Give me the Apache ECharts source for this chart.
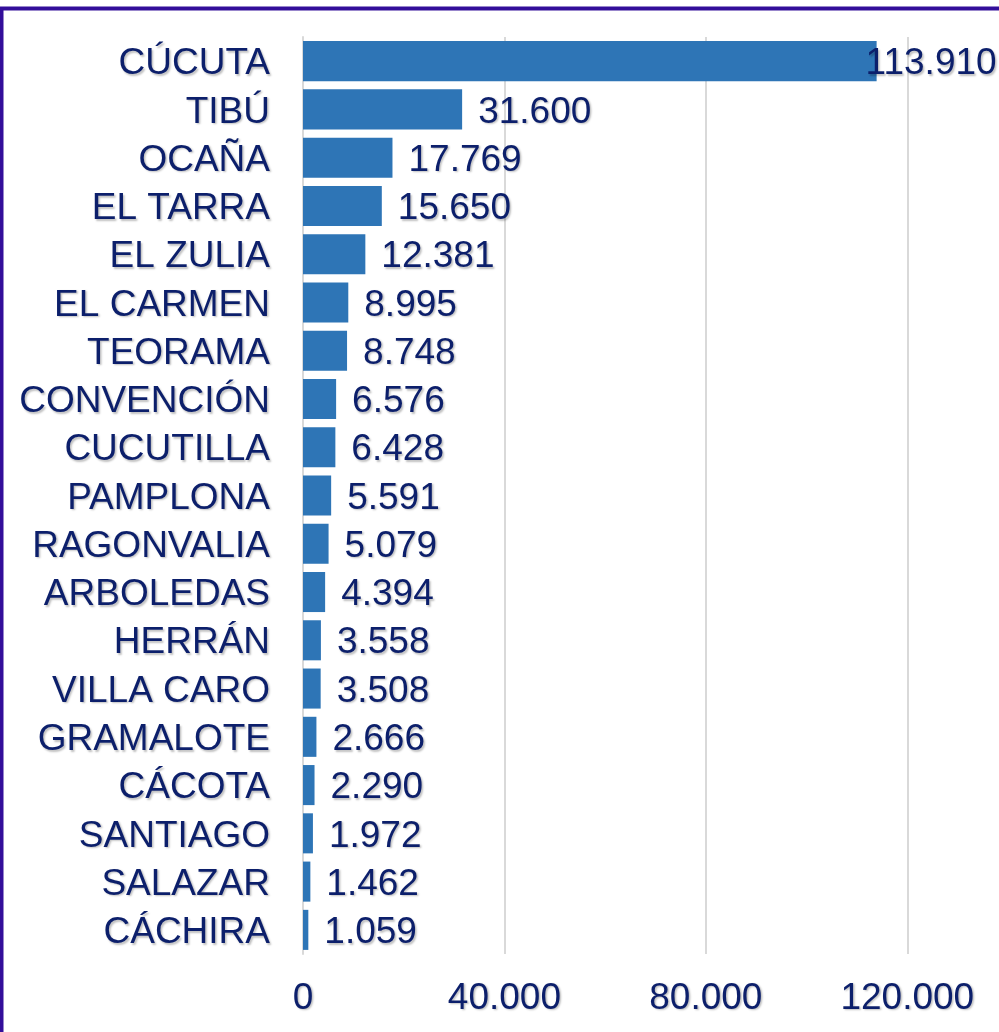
<!DOCTYPE html>
<html>
<head>
<meta charset="utf-8">
<script src="https://cdn.jsdelivr.net/npm/echarts@6/dist/echarts.min.js"></script>
<style>
  html, body { margin: 0; padding: 0; background: #fff; }
  #chart { width: 999px; height: 1032px; }
</style>
</head>
<body>
<div id="chart"></div>
<script>
// municipios y valores
var municipios = ['CÚCUTA', 'TIBÚ', 'OCAÑA', 'EL TARRA', 'EL ZULIA', 'EL CARMEN', 'TEORAMA',
  'CONVENCIÓN', 'CUCUTILLA', 'PAMPLONA', 'RAGONVALIA', 'ARBOLEDAS', 'HERRÁN', 'VILLA CARO',
  'GRAMALOTE', 'CÁCOTA', 'SANTIAGO', 'SALAZAR', 'CÁCHIRA'];
var valores = [113910, 31600, 17769, 15650, 12381, 8995, 8748, 6576, 6428, 5591, 5079, 4394,
  3558, 3508, 2666, 2290, 1972, 1462, 1059];

var azul = '#2E75B6';
var texto = '#0C1F6B';
var fuente = '"Liberation Sans", Arial, sans-serif';

// separador de miles con punto
function miles(v) {
  return String(v).replace(/\B(?=(\d{3})+(?!\d))/g, '.');
}

var sombra = {
  textShadowColor: 'rgba(0,0,0,0.25)',
  textShadowBlur: 2,
  textShadowOffsetX: 1.5,
  textShadowOffsetY: 1.5
};

var chart = echarts.init(document.getElementById('chart'));

var datos = valores.map(function (v, i) {
  // el primero queda encima de la barra (no cabe a la derecha)
  if (i === 0) return { value: v, label: { offset: [-27, 3] } };
  return v;
});

var option = {
  animation: false,
  graphic: [{
    type: 'rect',
    shape: { x: 1.5, y: 8.5, width: 1200, height: 1200 },
    style: { fill: 'none', stroke: '#330E9A', lineWidth: 4 },
    z: 100
  }],
  grid: { left: 303, top: 37, height: 917, width: 705, containLabel: false, outerBoundsMode: 'none' },
  xAxis: {
    type: 'value',
    min: 0,
    max: 140000,
    interval: 40000,
    axisLine: { show: false },
    axisTick: { show: false },
    splitLine: { lineStyle: { color: '#D9D9D9', width: 2 } },
    axisLabel: Object.assign({
      color: texto, fontSize: 37, fontFamily: fuente, margin: 26,
      showMaxLabel: false,
      formatter: function (v) { return miles(v); }
    }, sombra)
  },
  yAxis: {
    type: 'category',
    inverse: true,
    data: municipios,
    axisLine: { show: true, lineStyle: { color: '#D9D9D9', width: 2 } },
    axisTick: { show: false },
    axisLabel: Object.assign({
      color: texto, fontSize: 37, fontFamily: fuente, margin: 33,
      formatter: function (v) { return '{m|' + v + '}'; },
      rich: {
        m: Object.assign({
          color: texto, fontSize: 37, fontFamily: fuente, padding: [6, 0, 0, 0]
        }, sombra)
      }
    }, sombra)
  },
  series: [{
    type: 'bar',
    data: datos,
    barCategoryGap: '17%',
    itemStyle: { color: azul },
    label: Object.assign({
      show: true,
      position: 'right',
      distance: 16,
      offset: [0, 3],
      color: texto,
      fontSize: 37,
      fontFamily: fuente,
      formatter: function (p) { return miles(p.value); }
    }, sombra)
  }]
};

chart.setOption(option);
</script>
</body>
</html>
